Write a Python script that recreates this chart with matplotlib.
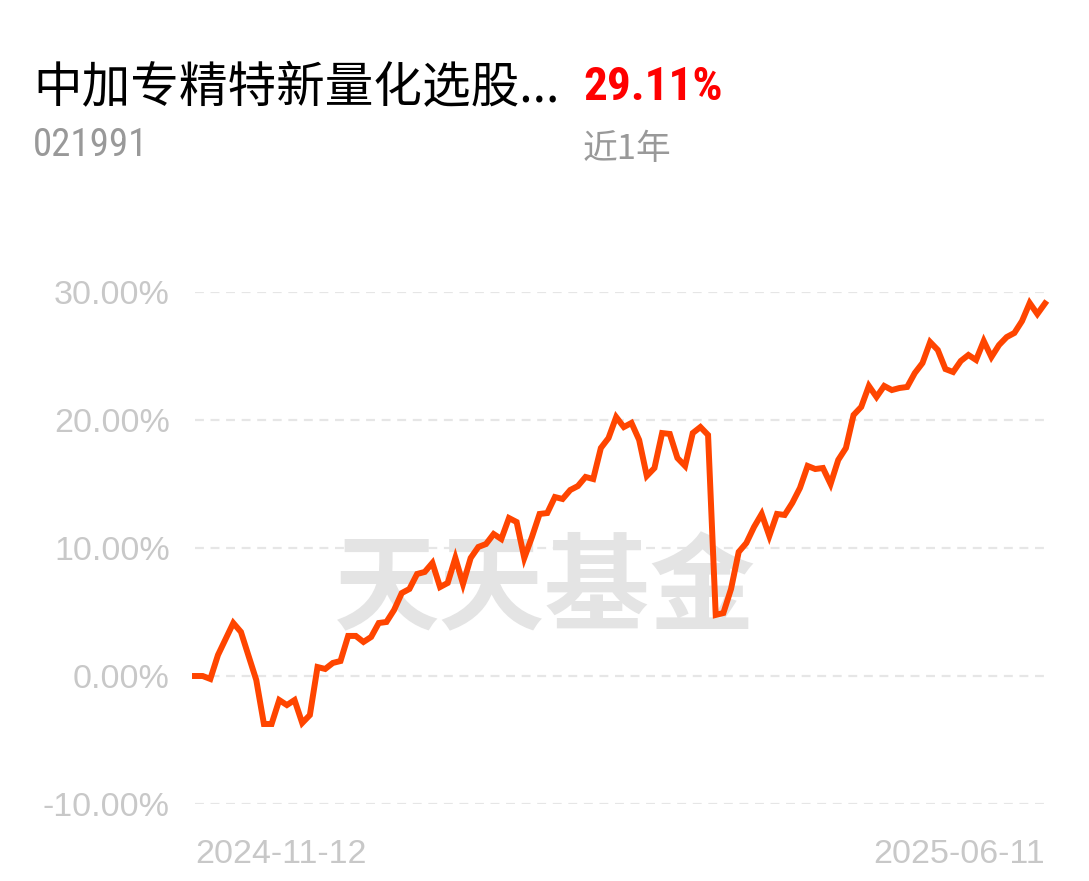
"""Fund return curve (近1年) recreated with matplotlib."""

import matplotlib

matplotlib.use("Agg")

import matplotlib.pyplot as plt
from matplotlib import font_manager

# cumulative return, percent, one value per sample point
returns = [
    0.00, 0.00, -0.23, 1.64, 2.89, 4.14, 3.44, 1.56, -0.31, -3.75,
    -3.75, -1.88, -2.27, -1.88, -3.67, -3.05, 0.70, 0.55, 1.02, 1.17,
    3.13, 3.13, 2.66, 3.05, 4.14, 4.22, 5.16, 6.48, 6.80, 7.97,
    8.13, 8.83, 6.95, 7.27, 9.22, 7.19, 9.22, 10.08, 10.31, 11.09,
    10.70, 12.34, 12.03, 9.22, 10.86, 12.66, 12.73, 13.98, 13.83, 14.53,
    14.84, 15.55, 15.39, 17.81, 18.59, 20.23, 19.45, 19.77, 18.44, 15.63,
    16.25, 18.98, 18.91, 17.03, 16.41, 18.98, 19.45, 18.83, 4.77, 4.92,
    6.80, 9.69, 10.39, 11.64, 12.66, 10.94, 12.66, 12.58, 13.52, 14.69,
    16.41, 16.17, 16.25, 15.00, 16.88, 17.81, 20.39, 21.02, 22.66, 21.80,
    22.66, 22.34, 22.50, 22.58, 23.67, 24.45, 26.09, 25.47, 23.98, 23.75,
    24.61, 25.08, 24.69, 26.17, 24.92, 25.86, 26.48, 26.80, 27.73, 29.14,
    28.28, 29.11,
]
y_ticks = [-10, 0, 10, 20, 30]
y_labels = ["-10.00%", "0.00%", "10.00%", "20.00%", "30.00%"]
date_labels = ["2024-11-12", "2025-06-11"]

fund_name = "中加专精特新量化选股..."
fund_code = "021991"
period_return = "29.11%"
period_name = "近1年"
watermark = "天天基金"

# the header numbers use a condensed face; fall back to a smaller regular one
installed = {f.name for f in font_manager.fontManager.ttflist}
narrow = None
for name in ["Liberation Sans Narrow", "Roboto Condensed", "Open Sans Condensed"]:
    if name in installed:
        narrow = name
        break
if narrow:
    num_font, return_size, code_size = narrow, 34, 28
else:
    num_font, return_size, code_size = "Liberation Sans", 29, 23.5
cjk = ["Noto Sans CJK SC", "DejaVu Sans"]

LINE = "#ff4500"
GRID = "#e6e6e6"
TICK = "#c8c8c8"

fig = plt.figure(figsize=(10.89, 8.81), dpi=100)
ax = fig.add_axes([195 / 1089, 77 / 881, 850 / 1089, 512 / 881])

# watermark sits under the curve, so it belongs to the axes
ax.text(545 / 1089, 1 - 591 / 881, watermark, transform=fig.transFigure,
        ha="center", va="center", fontsize=76, fontweight="bold",
        color="#e4e4e4", family=cjk, zorder=1, clip_on=False)

ax.plot(range(len(returns)), returns, color=LINE, linewidth=4.3,
        solid_joinstyle="miter", clip_on=False, zorder=3)

ax.set_xlim(0, len(returns) - 1)
ax.set_ylim(-10, 30)
ax.set_yticks(y_ticks)
ax.set_yticklabels(y_labels, family="Liberation Sans", fontsize=24.5, color=TICK)
ax.set_xticks([0, len(returns) - 1])
ax.set_xticklabels(date_labels, family="Liberation Sans", fontsize=24.5, color=TICK)
ax.get_xticklabels()[0].set_ha("left")
ax.get_xticklabels()[1].set_ha("right")
ax.tick_params(axis="y", length=0, pad=18)
ax.tick_params(axis="x", length=0, pad=25)
ax.grid(axis="y", color=GRID, linewidth=1.6, linestyle=(0, (4, 3)))
ax.set_axisbelow(True)
for spine in ax.spines.values():
    spine.set_visible(False)

fig.text(33 / 1089, 1 - 88 / 881, fund_name, ha="left", va="center",
         fontsize=35, color="#000000", family=cjk)
fig.text(583 / 1089, 1 - 87 / 881, period_return, ha="left", va="center",
         fontsize=return_size, color="#ff0000", family=num_font, fontweight="bold")
fig.text(33 / 1089, 1 - 145 / 881, fund_code, ha="left", va="center",
         fontsize=code_size, color="#999999", family=num_font)
fig.text(583 / 1089, 1 - 150 / 881, period_name, ha="left", va="center",
         fontsize=25, color="#999999", family=cjk)

fig.savefig("out.png", dpi=100)
